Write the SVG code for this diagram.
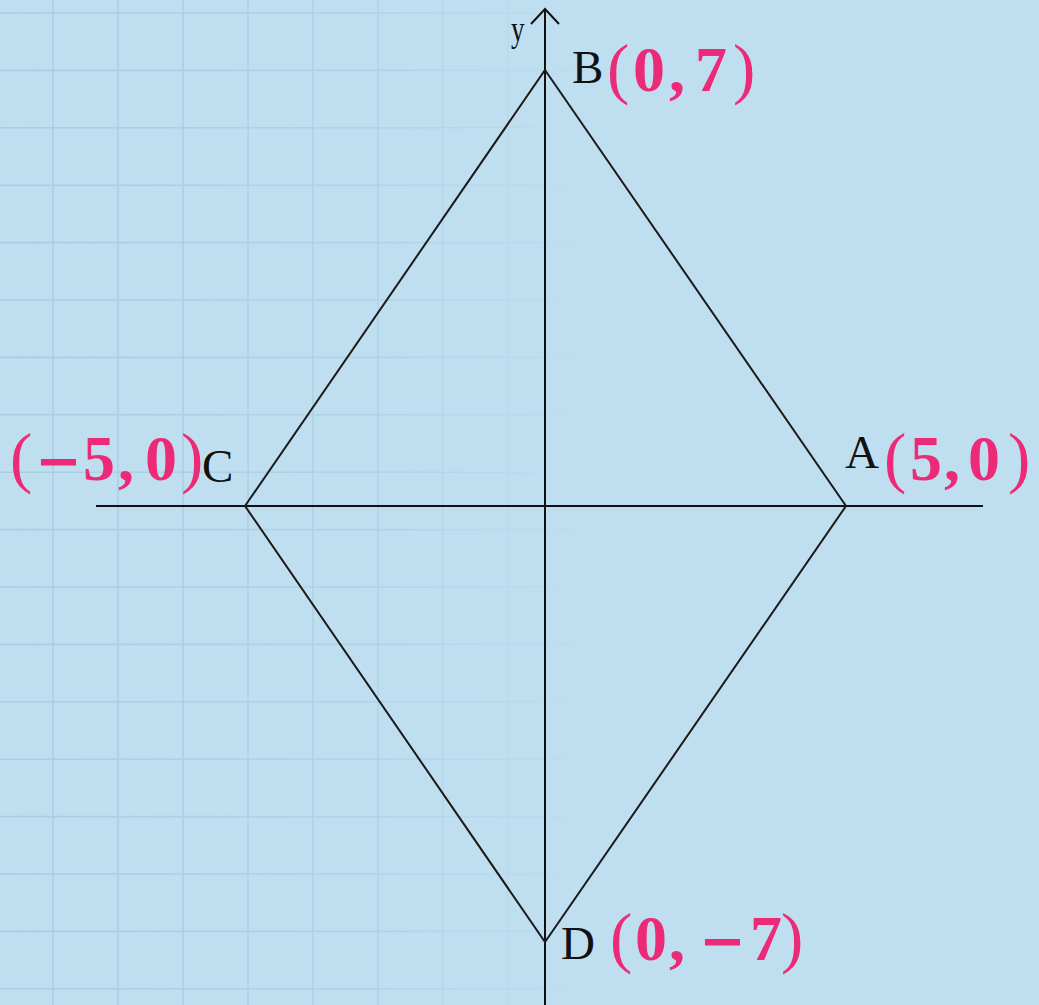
<svg xmlns="http://www.w3.org/2000/svg" width="1039" height="1005" viewBox="0 0 1039 1005">
<style>
.grid line{stroke:#a8cde2;stroke-width:1.6}
.axis{stroke:#111;stroke-width:2;fill:none}
.edge{stroke:#1a1a1a;stroke-width:2;fill:none}
.lbl{font-family:"Liberation Serif","Times New Roman",serif;font-size:47px;fill:#111}
.ylbl{font-family:"Liberation Serif","Times New Roman",serif;font-size:27px;fill:#111}
.coord{font-family:"Liberation Serif","Times New Roman",serif;font-weight:bold;font-size:64px;fill:#ec2a78}
.p{font-weight:normal;font-size:67px}
.m{font-family:"DejaVu Serif",serif;font-weight:bold;font-size:56px}
.s{font-size:8px}
</style>
<defs>
<linearGradient id="fade" x1="0" y1="0" x2="1039" y2="0" gradientUnits="userSpaceOnUse">
<stop offset="0" stop-color="#fff" stop-opacity="1"/>
<stop offset="0.35" stop-color="#fff" stop-opacity="0.7"/>
<stop offset="0.58" stop-color="#fff" stop-opacity="0"/>
</linearGradient>
<mask id="gridmask" maskUnits="userSpaceOnUse" x="0" y="0" width="1039" height="1005">
<rect x="0" y="0" width="1039" height="1005" fill="url(#fade)"/>
</mask>
</defs>
<rect id="background" x="0" y="0" width="1039" height="1005" fill="#bfdff0"/>
<g class="grid" mask="url(#gridmask)">
<line x1="53" y1="0" x2="53" y2="1005"/>
<line x1="118" y1="0" x2="118" y2="1005"/>
<line x1="183" y1="0" x2="183" y2="1005"/>
<line x1="248" y1="0" x2="248" y2="1005"/>
<line x1="313" y1="0" x2="313" y2="1005"/>
<line x1="378" y1="0" x2="378" y2="1005"/>
<line x1="443" y1="0" x2="443" y2="1005"/>
<line x1="508" y1="0" x2="508" y2="1005"/>
<line x1="0" y1="13" x2="1039" y2="13"/>
<line x1="0" y1="70.4" x2="1039" y2="70.4"/>
<line x1="0" y1="127.8" x2="1039" y2="127.8"/>
<line x1="0" y1="185.2" x2="1039" y2="185.2"/>
<line x1="0" y1="242.6" x2="1039" y2="242.6"/>
<line x1="0" y1="300" x2="1039" y2="300"/>
<line x1="0" y1="357.4" x2="1039" y2="357.4"/>
<line x1="0" y1="414.8" x2="1039" y2="414.8"/>
<line x1="0" y1="472.2" x2="1039" y2="472.2"/>
<line x1="0" y1="529.6" x2="1039" y2="529.6"/>
<line x1="0" y1="587" x2="1039" y2="587"/>
<line x1="0" y1="644.4" x2="1039" y2="644.4"/>
<line x1="0" y1="701.8" x2="1039" y2="701.8"/>
<line x1="0" y1="759.2" x2="1039" y2="759.2"/>
<line x1="0" y1="816.6" x2="1039" y2="816.6"/>
<line x1="0" y1="874" x2="1039" y2="874"/>
<line x1="0" y1="931.4" x2="1039" y2="931.4"/>
<line x1="0" y1="988.8" x2="1039" y2="988.8"/>
</g>
<g id="axes">
<line class="axis" x1="96" y1="506" x2="983" y2="506" stroke-width="2.4"/>
<line class="axis" x1="545" y1="9" x2="545" y2="1005"/>
<polyline class="axis" points="531,24 545,9 559,24"/>
<g transform="translate(511,41) scale(1,1.3)"><text class="ylbl" x="0" y="0">y</text></g>
</g>
<g id="connectors">
<polygon class="edge" points="545,70 846,506 545,942 245,506"/>
</g>
<g id="node-B">
<text class="lbl" x="572" y="83">B</text>
<text class="coord" y="91"><tspan class="p" x="607">(</tspan><tspan x="633">0</tspan><tspan x="669">,</tspan><tspan class="s"> </tspan><tspan x="695">7</tspan><tspan class="p" x="733">)</tspan></text>
</g>
<g id="node-C">
<text class="lbl" x="202" y="482">C</text>
<text class="coord" y="480"><tspan class="p" x="10">(</tspan><tspan class="m" x="35">−</tspan><tspan x="83">5</tspan><tspan x="118">,</tspan><tspan class="s"> </tspan><tspan x="145">0</tspan><tspan class="p" x="181">)</tspan></text>
</g>
<g id="node-A">
<text class="lbl" x="845" y="468">A</text>
<text class="coord" y="480"><tspan class="p" x="884">(</tspan><tspan x="910">5</tspan><tspan x="944">,</tspan><tspan class="s"> </tspan><tspan x="968">0</tspan><tspan class="p" x="1008">)</tspan></text>
</g>
<g id="node-D">
<text class="lbl" x="561" y="959">D</text>
<text class="coord" y="960"><tspan class="p" x="610">(</tspan><tspan x="635">0</tspan><tspan x="669">,</tspan><tspan class="s"> </tspan><tspan class="m" x="699">−</tspan><tspan x="750">7</tspan><tspan class="p" x="781">)</tspan></text>
</g>
</svg>
